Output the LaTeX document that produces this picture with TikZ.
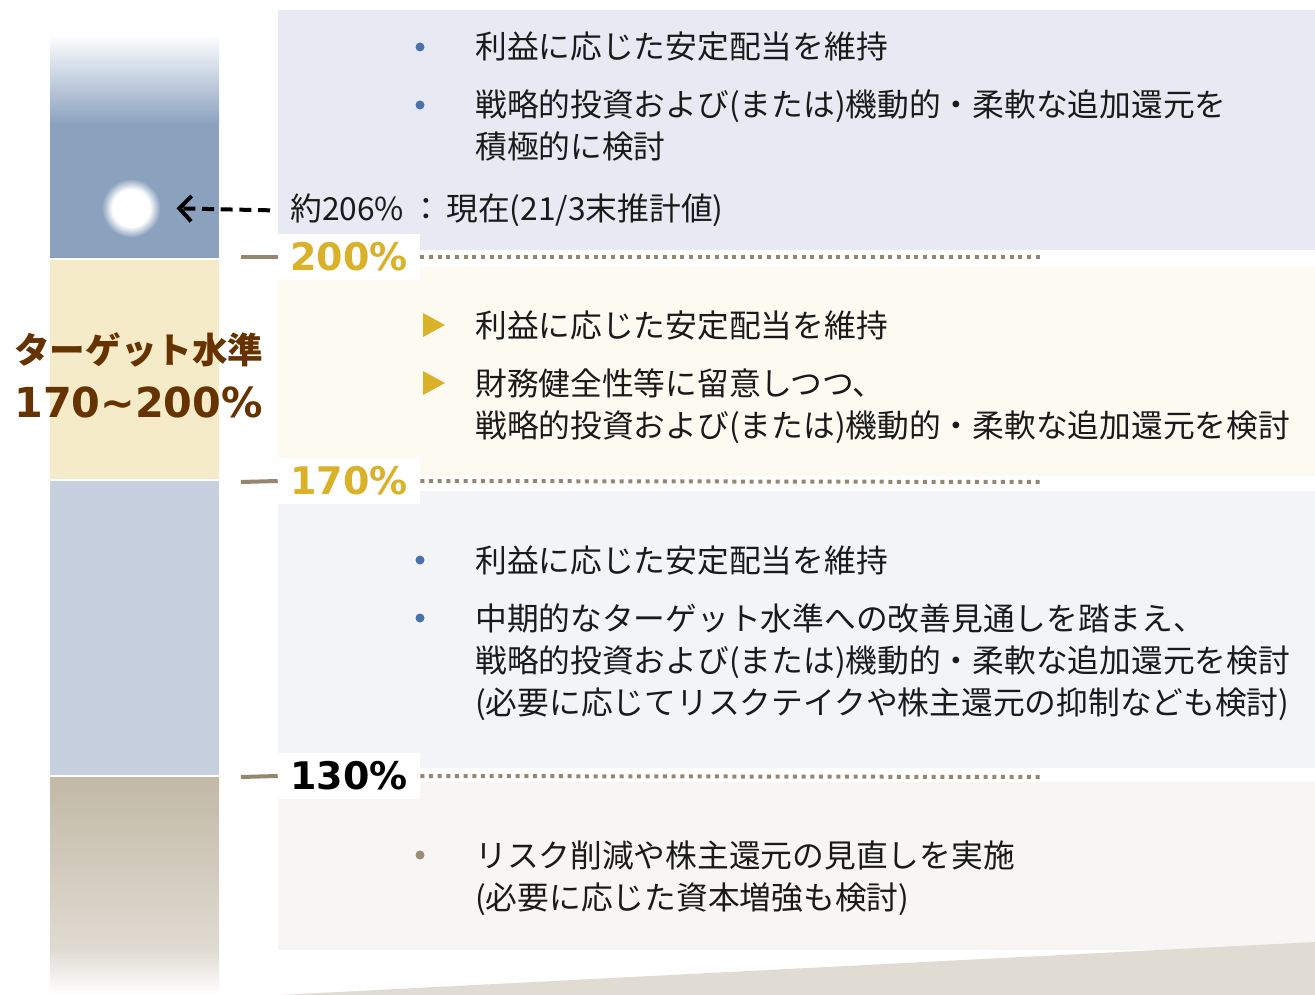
\documentclass[tikz,border=0pt]{standalone}
\usepackage{fontspec}
\setmainfont{Noto Sans CJK JP}
\newfontfamily\cjk{Noto Sans CJK JP}
\newfontfamily\dvs{DejaVu Sans}
\usetikzlibrary{arrows.meta}
\definecolor{barblue}{HTML}{8BA2BF}
\definecolor{tanseg}{HTML}{F5EBC8}
\definecolor{lightblue}{HTML}{C6D0DF}
\definecolor{btop}{HTML}{C2B9A6}
\definecolor{bmid}{HTML}{E0DBD2}
\definecolor{panelA}{HTML}{E7EAF2}
\definecolor{panelB}{HTML}{FDFAF2}
\definecolor{panelC}{HTML}{F2F4F8}
\definecolor{panelD}{HTML}{F7F6F4}
\definecolor{wedgec}{HTML}{E0DBD3}
\definecolor{gold}{HTML}{DAB22A}
\definecolor{tickc}{HTML}{958670}
\definecolor{titlec}{HTML}{663300}
\definecolor{bulblue}{HTML}{4A72A8}
\definecolor{bulbrown}{HTML}{9C8C74}
\definecolor{textc}{HTML}{1A1A1A}
\pgfdeclareradialshading{glowsh}{\pgfpointorigin}{color(0bp)=(white); color(16bp)=(white); color(25bp)=(barblue); color(50bp)=(barblue)}
\begin{document}
\begin{tikzpicture}[x=0.75pt,y=-0.75pt,
  body/.style={font=\cjk\fontsize{23.8pt}{30pt}\selectfont, text=textc, anchor=base west, inner sep=0pt},
  pct/.style={font=\dvs\bfseries\fontsize{28.5pt}{30pt}\selectfont, fill=white, minimum width=106.5pt, minimum height=35pt, inner sep=0pt},
  tickline/.style={draw=tickc, line width=3pt},
  dotline/.style={draw=tickc, line width=3pt, dash pattern=on 3pt off 3.5pt},
  arr/.style={draw=black, line width=3pt, dash pattern=on 9pt off 5pt, -{Straight Barb[length=9pt,width=19pt]}},
  bdotA/.style={fill=bulblue},
  bdotB/.style={fill=bulbrown},
  tri/.style={fill=gold},
  titleA/.style={font=\cjk\bfseries\fontsize{26.7pt}{30pt}\selectfont, text=titlec, anchor=west, inner sep=0pt},
  titleB/.style={font=\dvs\bfseries\fontsize{31pt}{34pt}\selectfont, text=titlec, anchor=west, inner sep=0pt},
]
\useasboundingbox (0,0) rectangle (1315,995);
% ---- left bar ----
\shade[top color=white!96!barblue, bottom color=barblue] (50,38) rectangle (219,124);
\fill[barblue] (50,123.5) rectangle (219,258);
\fill[tanseg] (50,260) rectangle (219,479);
\fill[lightblue] (50,481) rectangle (219,775);
\shade[top color=btop, bottom color=bmid] (50,777) rectangle (219,950);
\shade[top color=bmid, bottom color=white] (50,949.5) rectangle (219,995);
\node[circle, minimum size=44pt, inner sep=0pt, shade, shading=glowsh] (glow) at (131,208) {};
% ---- panels ----
\fill[panelA] (278,10) rectangle (1315,250);
\fill[panelB] (278,267) rectangle (1315,476);
\fill[panelC] (278,491) rectangle (1315,768);
\fill[panelD] (278,782) rectangle (1315,950);
\fill[wedgec] (280,995) -- (1315,942) -- (1315,995) -- cycle;
% ---- title ----
\node[titleA] (t1) at (14,350) {ターゲット水準};
\node[titleB] (t2) at (14,402) {170\textasciitilde200\%};
% ---- thresholds ----
\coordinate (s200) at (241,257);
\coordinate (e200) at (1040,257);
\node[pct, text=gold] (l200) at (349,257) {200\%};
\draw[tickline] (s200) -- (l200.west);
\draw[dotline] (l200.east) -- (e200);
\coordinate (s170) at (241,482);
\coordinate (e170) at (1040,482);
\node[pct, text=gold] (l170) at (349,481) {170\%};
\draw[tickline] (s170) -- (l170.west);
\draw[dotline] (l170.east) -- (e170);
\coordinate (s130) at (241,777);
\coordinate (e130) at (1040,777);
\node[pct, text=black] (l130) at (349,776) {130\%};
\draw[tickline] (s130) -- (l130.west);
\draw[dotline] (l130.east) -- (e130);
% ---- current level ----
\node[body] (cur) at (290,221) {約206\%\hspace{5pt}：\hspace{3pt}現在(21/3末推計値)};
\draw[arr, shorten <=15pt, shorten >=12pt] (cur.west) -- (glow.east);
% ---- panel A ----
\fill[bdotA] (420,47) circle (4.5);
\fill[bdotA] (420,105) circle (4.5);
\node[body] (a1) at (475,59) {利益に応じた安定配当を維持};
\node[body] (a2) at (475,117) {戦略的投資および(または)機動的・柔軟な追加還元を};
\node[body] (a3) at (475,159) {積極的に検討};
% ---- panel B ----
\fill[tri] (423,313) -- (445,325) -- (423,337) -- cycle;
\fill[tri] (423,371) -- (445,383) -- (423,395) -- cycle;
\node[body] (b1) at (475,337) {利益に応じた安定配当を維持};
\node[body] (b2) at (475,395) {財務健全性等に留意しつつ、};
\node[body] (b3) at (475,437) {戦略的投資および(または)機動的・柔軟な追加還元を検討};
% ---- panel C ----
\fill[bdotA] (420,560) circle (4.5);
\fill[bdotA] (420,618) circle (4.5);
\node[body] (c1) at (475,572) {利益に応じた安定配当を維持};
\node[body] (c2) at (475,630) {中期的なターゲット水準への改善見通しを踏まえ、};
\node[body] (c3) at (475,672) {戦略的投資および(または)機動的・柔軟な追加還元を検討};
\node[body] (c4) at (475,714) {(必要に応じてリスクテイクや株主還元の抑制なども検討)};
% ---- panel D ----
\fill[bdotB] (420,855) circle (4.5);
\node[body] (d1) at (475,867) {リスク削減や株主還元の見直しを実施};
\node[body] (d2) at (475,909) {(必要に応じた資本増強も検討)};
\end{tikzpicture}
\end{document}
